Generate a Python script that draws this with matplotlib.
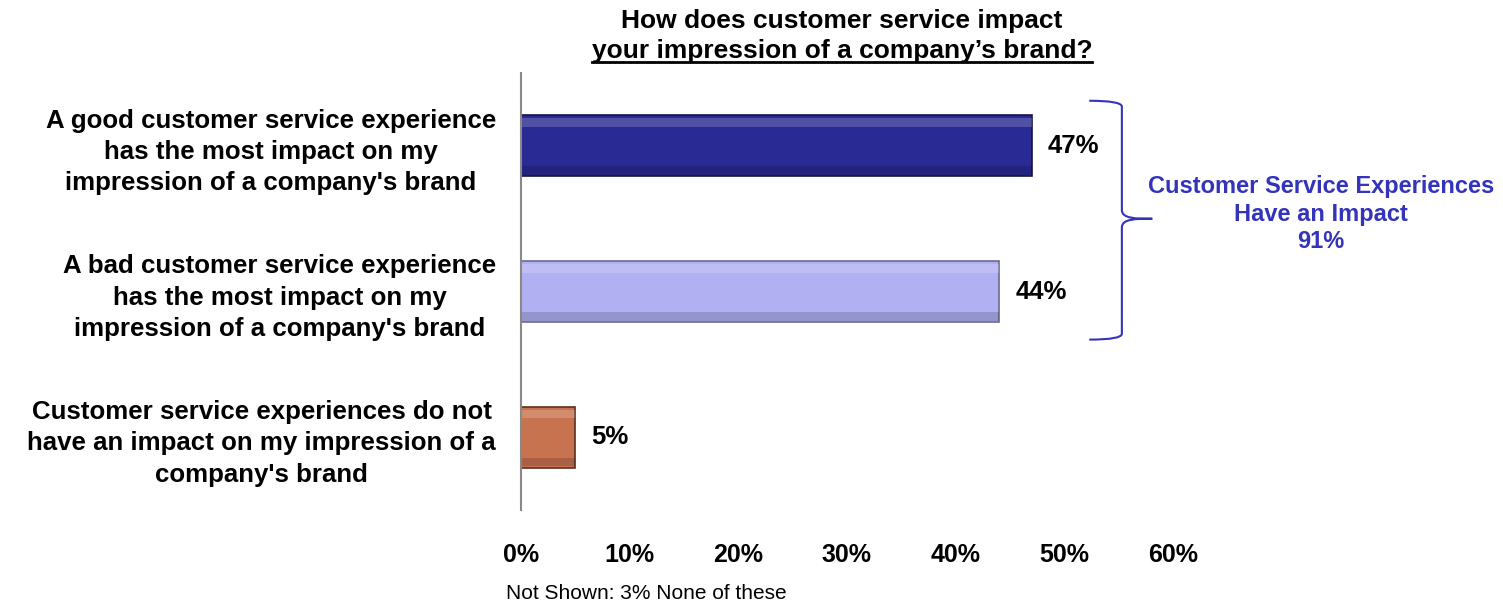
import matplotlib.pyplot as plt
from matplotlib.path import Path
from matplotlib.patches import PathPatch

plt.rcParams['font.family'] = ['Liberation Sans', 'DejaVu Sans']

categories = ["A good customer service experience\nhas the most impact on my\nimpression of a company's brand",
              "A bad customer service experience\nhas the most impact on my\nimpression of a company's brand",
              "Customer service experiences do not\nhave an impact on my impression of a\ncompany's brand"]
values = [47, 44, 5]
colors = ['#2a2a94', '#b0b0f2', '#c8734f']
edges = ['#14144a', '#6a6a90', '#5a3020']
ticks = [0, 10, 20, 30, 40, 50, 60]
tick_labels = [f"{t}%" for t in ticks]
group_total = 91

fig = plt.figure(figsize=(15.03, 6.04), dpi=100)
ax = fig.add_axes([0.3466, 0.1556, 0.7804 - 0.3466, 0.879 - 0.1556])

y = list(range(len(values)))
ax.barh(y, values, height=0.42, color=colors, edgecolor=edges, linewidth=1.2)
# bevel look: light strip on top, dark strip at bottom
ax.barh([i - 0.16 for i in y], values, height=0.06, color='white', alpha=0.18, linewidth=0)
ax.barh([i + 0.17 for i in y], values, height=0.06, color='black', alpha=0.15, linewidth=0)

for i, v in enumerate(values):
    ax.text(v + 1.5, i, f"{v}%", va='center', ha='left', fontsize=18.5, fontweight='bold')

ax.set_xlim(0, 60)
ax.set_ylim(2.5, -0.5)
ax.set_yticks(y)
ax.set_yticklabels(categories, fontsize=18.6, fontweight='bold', linespacing=1.38,
                   multialignment='center')
ax.set_xticks(ticks)
ax.set_xticklabels(tick_labels, fontsize=18, fontweight='bold')
ax.tick_params(axis='x', length=0, pad=24)
ax.tick_params(axis='y', length=0, pad=18)
for s in ['top', 'right', 'bottom']:
    ax.spines[s].set_visible(False)
ax.spines['left'].set_color('#888888')
ax.spines['left'].set_linewidth(1.5)

# title, second line underlined
fig.text(0.5602, 0.966, "How does customer service impact", ha='center', va='center',
         fontsize=19, fontweight='bold')
t2 = fig.text(0.5602, 0.916, "your impression of a company\u2019s brand?", ha='center', va='center',
              fontsize=19, fontweight='bold')
fig.canvas.draw()
bb = t2.get_window_extent().transformed(fig.transFigure.inverted())
fig.add_artist(plt.Line2D([bb.x0, bb.x1], [bb.y0 + 0.002, bb.y0 + 0.002], color='black', lw=2))

# curly brace around first two bars
x0, x1, x2 = 52.3, 55.3, 58.1
ya, ym, yb = -0.31, 0.5, 1.33
verts = [(x0, ya), (x1, ya), (x1, ya + 0.04),
         (x1, ym - 0.06),
         (x1, ym), (x2 - 1.5, ym), (x2, ym),
         (x2 - 1.5, ym), (x1, ym), (x1, ym + 0.06),
         (x1, yb - 0.04),
         (x1, yb), (x0, yb)]
codes = [Path.MOVETO, Path.CURVE3, Path.CURVE3,
         Path.LINETO,
         Path.CURVE4, Path.CURVE4, Path.CURVE4,
         Path.CURVE4, Path.CURVE4, Path.CURVE4,
         Path.LINETO,
         Path.CURVE3, Path.CURVE3]
ax.add_patch(PathPatch(Path(verts, codes), fill=False, edgecolor='#3333bb', lw=1.5, clip_on=False))

ax.text(73.6, 0.47, f"Customer Service Experiences\nHave an Impact\n{group_total}%", ha='center', va='center',
        fontsize=17, fontweight='bold', color='#3333bb', linespacing=1.25, clip_on=False)

fig.text(0.3366, 0.0166, "Not Shown: 3% None of these", fontsize=15, ha='left', va='center')

fig.savefig('out.png', dpi=100)
